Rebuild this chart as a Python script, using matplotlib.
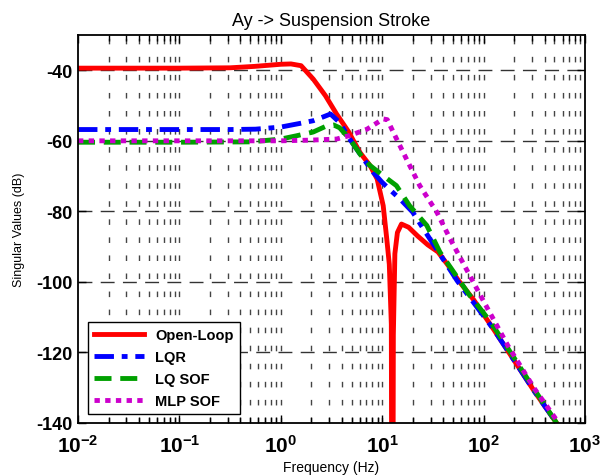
import numpy as np
import matplotlib
matplotlib.use("Agg")
import matplotlib.pyplot as plt
from matplotlib.ticker import FixedLocator, FixedFormatter, NullFormatter

plt.rcParams['font.family'] = ['Liberation Sans', 'DejaVu Sans']
plt.rcParams['mathtext.fontset'] = 'custom'
plt.rcParams['mathtext.rm'] = 'Liberation Sans'
plt.rcParams['mathtext.bf'] = 'Liberation Sans:bold'

# singular values, log10(frequency in Hz) vs dB
ol_lf = [-2, -1, -0.5, -0.26, 0, 0.1, 0.2, 0.32, 0.44, 0.55, 0.67, 0.78, 0.88, 0.95,
         1.01, 1.045, 1.07, 1.09, 1.10, 1.11, 1.125, 1.15, 1.19, 1.26, 1.35, 1.45,
         1.55, 1.65, 1.75, 1.9, 2.1, 2.3, 2.5, 2.72]
ol_db = [-39.4, -39.4, -39.3, -38.9, -38.3, -38.2, -38.7, -42.5, -47.2, -52.4, -57.5,
         -63.3, -67.0, -70.8, -78.4, -87.8, -95, -112, -250, -115, -92, -86, -83.6,
         -84.5, -87, -89.5, -91.5, -95.3, -99.5, -105, -113.5, -122.2, -131, -140]

lqr_lf = [-2, -1, -0.5, -0.25, 0, 0.2, 0.32, 0.42, 0.49, 0.58, 0.68, 0.8, 0.91, 1.0,
          1.1, 1.176, 1.3, 1.47, 1.6, 1.74, 1.9, 2.1, 2.3, 2.5, 2.72]
lqr_db = [-56.8, -56.8, -56.8, -56.7, -56.1, -55.0, -54.3, -53.2, -52.4, -54.8, -59.5,
          -64.5, -68.9, -71.8, -74.5, -76.5, -80.2, -87.8, -93.5, -99.7, -105.8,
          -113.5, -122.2, -131, -140]

sof_lf = [-2, -1, -0.3, 0, 0.15, 0.32, 0.45, 0.52, 0.58, 0.68, 0.8, 0.88, 1.01, 1.14,
          1.27, 1.44, 1.57, 1.7, 1.85, 2.07, 2.3, 2.5, 2.72]
sof_db = [-60.4, -60.4, -60.3, -59.5, -58.6, -57.5, -55.8, -55.5, -56.3, -59.5, -64.5,
          -67.0, -69.9, -72.7, -78.4, -84.0, -91.6, -97, -103.3, -111.4, -121.5,
          -130.5, -140]

mlp_lf = [-2, -1, 0, 0.3, 0.55, 0.68, 0.85, 1.01, 1.05, 1.11, 1.24, 1.37, 1.54, 1.67,
          1.97, 2.24, 2.5, 2.74]
mlp_db = [-60.0, -60.0, -60.0, -59.8, -59.5, -58.5, -56.7, -53.8, -54.0, -57.6, -65.2,
          -72.7, -80.3, -87.8, -103.9, -118.1, -130.2, -140]

x_ticks = [1e-2, 1e-1, 1e0, 1e1, 1e2, 1e3]
x_labels = [r'$\mathbf{10^{-2}}$', r'$\mathbf{10^{-1}}$', r'$\mathbf{10^{0}}$',
            r'$\mathbf{10^{1}}$', r'$\mathbf{10^{2}}$', r'$\mathbf{10^{3}}$']
y_ticks = [-140, -120, -100, -80, -60, -40]

fig = plt.figure(figsize=(6.07, 4.77), dpi=100)
ax = fig.add_axes([78 / 607, 53 / 477, 507 / 607, 388 / 477])

lw = 3.5
ax.plot(10 ** np.array(ol_lf), ol_db, color='#ff0000', lw=lw, label='Open-Loop')
ax.plot(10 ** np.array(lqr_lf), lqr_db, color='#0000ff', lw=lw, label='LQR',
        dashes=(4, 1.6, 1.2, 1.6))
ax.plot(10 ** np.array(sof_lf), sof_db, color='#00a000', lw=lw, label='LQ SOF',
        dashes=(3.5, 1.8))
ax.plot(10 ** np.array(mlp_lf), mlp_db, color='#cc00cc', lw=lw, label='MLP SOF',
        dashes=(1.1, 1.1))

ax.set_xscale('log')
ax.set_xlim(1e-2, 1e3)
ax.set_ylim(-140, -30)

# grid: dotted-looking verticals at every decade step, dashed horizontals
minors = [m * 10.0 ** d for d in range(-2, 3) for m in range(2, 10)]
for xv in x_ticks[1:-1] + minors:
    ax.axvline(xv, color='#444444', lw=1.0, dashes=(4, 9), zorder=0)
for yv in y_ticks[1:]:
    ax.axhline(yv, color='#333333', lw=1.0, dashes=(10, 6), zorder=0)

ax.xaxis.set_major_locator(FixedLocator(x_ticks))
ax.xaxis.set_major_formatter(FixedFormatter(x_labels))
ax.xaxis.set_minor_locator(FixedLocator(minors))
ax.xaxis.set_minor_formatter(NullFormatter())
ax.set_yticks(y_ticks)
ax.set_yticklabels([str(v) for v in y_ticks], fontweight='bold')
ax.tick_params(axis='x', which='major', labelsize=15, pad=8)
ax.tick_params(axis='y', labelsize=13, pad=4)
ax.tick_params(which='both', direction='in', top=True, right=True, color='k')
ax.tick_params(which='major', length=6, width=1)
ax.tick_params(which='minor', length=4, width=1)

for sp in ax.spines.values():
    sp.set_linewidth(1.3)

ax.set_title('Ay -> Suspension Stroke', fontsize=13, pad=7)
ax.set_xlabel('Frequency (Hz)', fontsize=10, labelpad=3)
ax.set_ylabel('Singular Values (dB)', fontsize=9, labelpad=8)

leg = ax.legend(loc='lower left', bbox_to_anchor=(0.02, 0.023), borderaxespad=0,
                prop={'weight': 'bold', 'size': 10.5}, handlelength=3.4,
                fancybox=False, framealpha=1, edgecolor='k', labelspacing=0.55)
leg.get_frame().set_linewidth(1.0)

fig.savefig('out.png', dpi=100)
